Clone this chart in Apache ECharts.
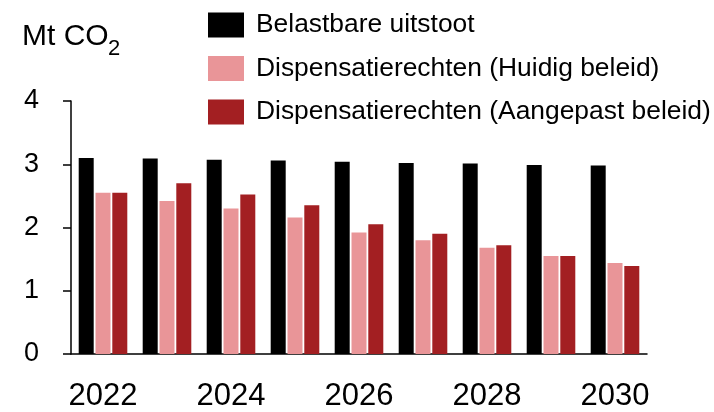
<!DOCTYPE html>
<html>
<head>
<meta charset="utf-8">
<script src="https://cdn.jsdelivr.net/npm/echarts@6/dist/echarts.min.js"></script>
<style>
  html, body { margin: 0; padding: 0; background: #fff; }
  #main { width: 714px; height: 412px; }
</style>
</head>
<body>
<div id="main"></div>
<script>
// 数据
var years = ['2022', '2023', '2024', '2025', '2026', '2027', '2028', '2029', '2030']
var belastbaar = [3.10, 3.09, 3.07, 3.06, 3.04, 3.02, 3.01, 2.99, 2.98]
var huidig = [2.55, 2.42, 2.30, 2.16, 1.92, 1.80, 1.68, 1.55, 1.44]
var aangepast = [2.55, 2.70, 2.52, 2.35, 2.05, 1.90, 1.72, 1.55, 1.39]

var font = 'Liberation Sans, Arial, sans-serif'

var myChart = echarts.init(document.getElementById('main'))

var option = {
  animation: false,
  // 单位 Mt CO2（下标2）
  graphic: [
    { type: 'text', left: 22, top: 22, style: { text: 'Mt CO', font: '30px ' + font, fill: '#000' } },
    { type: 'text', left: 108, top: 38, style: { text: '2', font: '22px ' + font, fill: '#000' } }
  ],
  legend: {
    orient: 'vertical',
    left: 203,
    top: 7,
    itemWidth: 36,
    itemHeight: 25,
    itemGap: 17.5,
    icon: 'rect',
    textStyle: { fontFamily: font, fontSize: 26.4, color: '#000', padding: [0, 0, 0, 7] },
    data: ['Belastbare uitstoot', 'Dispensatierechten (Huidig beleid)', 'Dispensatierechten (Aangepast beleid)']
  },
  grid: { left: 71, right: 67, top: 101, bottom: 54 },
  xAxis: {
    type: 'category',
    data: years,
    boundaryGap: true,
    axisLine: { lineStyle: { color: '#000', width: 1.5 } },
    axisTick: { interval: 0, length: 9, lineStyle: { color: '#000', width: 1.5 } },
    axisLabel: { interval: 1, fontFamily: font, fontSize: 31, color: '#000', margin: 27 }
  },
  yAxis: {
    type: 'value',
    min: 0,
    max: 4,
    interval: 1,
    splitLine: { show: false },
    axisLine: { show: true, lineStyle: { color: '#000', width: 1.5 } },
    axisTick: { show: true, length: 8, lineStyle: { color: '#000', width: 1.5 } },
    axisLabel: { fontFamily: font, fontSize: 27, color: '#000', margin: 32, padding: [4, 0, 0, 0] }
  },
  series: [
    { name: 'Belastbare uitstoot', type: 'bar', data: belastbaar, barWidth: 15, barGap: '12%', itemStyle: { color: '#000000' } },
    { name: 'Dispensatierechten (Huidig beleid)', type: 'bar', data: huidig, barWidth: 15, barGap: '12%', itemStyle: { color: '#E99598' } },
    { name: 'Dispensatierechten (Aangepast beleid)', type: 'bar', data: aangepast, barWidth: 15, barGap: '12%', itemStyle: { color: '#A31F22' } }
  ]
}

myChart.setOption(option)
</script>
</body>
</html>
